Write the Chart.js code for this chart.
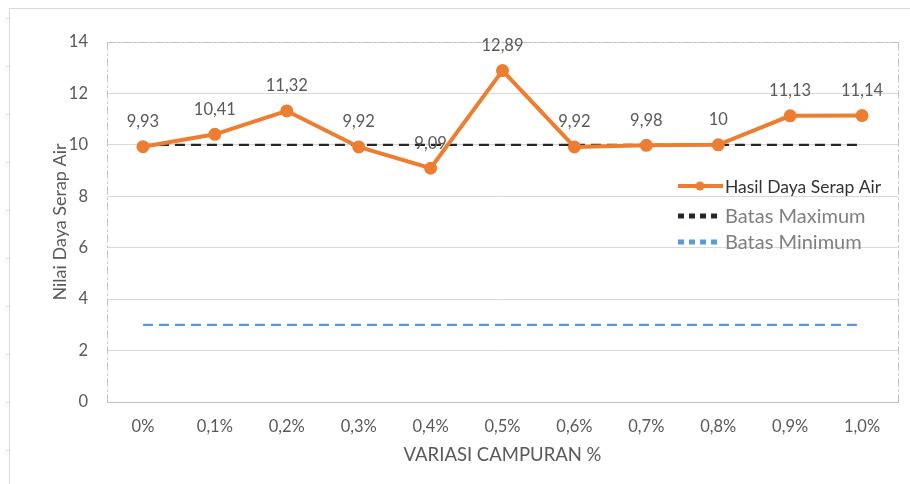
<!DOCTYPE html>
<html>
<head>
<meta charset="utf-8">
<script src="https://cdn.jsdelivr.net/npm/chart.js@4/dist/chart.umd.min.js"></script>
<style>
html,body{margin:0;padding:0;background:#fff;}
#wrap{width:910px;height:484px;position:relative;}
</style>
</head>
<body>
<div id="wrap"><canvas id="c" width="910" height="484"></canvas></div>
<script>
const categories = ["0%","0,1%","0,2%","0,3%","0,4%","0,5%","0,6%","0,7%","0,8%","0,9%","1,0%"];
const hasilDayaSerapAir = [9.93,10.41,11.32,9.92,9.09,12.89,9.92,9.98,10,11.13,11.14];
const batasMaximum = [10,10,10,10,10,10,10,10,10,10,10];
const batasMinimum = [3,3,3,3,3,3,3,3,3,3,3];
const yTicks = [0,2,4,6,8,10,12,14];

const FONT = "'Lato','Open Sans',sans-serif";
const GRAY = '#595959';

const framePlugin = {
  id: 'frame',
  beforeDraw(chart) {
    const ctx = chart.ctx;
    ctx.save();
    ctx.strokeStyle = '#d9d9d9';
    ctx.lineWidth = 1;
    ctx.beginPath();
    ctx.moveTo(9.5, 8.5); ctx.lineTo(910, 8.5);
    ctx.moveTo(9.5, 8.5); ctx.lineTo(9.5, 484);
    for (let y = 18; y < 484; y += 48) { ctx.moveTo(6, y + 0.5); ctx.lineTo(9.5, y + 0.5); }
    ctx.stroke();
    ctx.restore();
  },
  afterDatasetsDraw(chart) {
    const {ctx, chartArea: a} = chart;
    ctx.save();
    ctx.strokeStyle = '#bfbfbf';
    ctx.lineWidth = 1;
    ctx.setLineDash([8, 3, 2, 3]);
    ctx.beginPath();
    ctx.moveTo(a.left + 0.5, a.top + 0.5); ctx.lineTo(a.right + 0.5, a.top + 0.5);
    ctx.moveTo(a.left + 0.5, a.top + 0.5); ctx.lineTo(a.left + 0.5, a.bottom);
    ctx.moveTo(a.right + 0.5, a.top + 0.5); ctx.lineTo(a.right + 0.5, a.bottom);
    ctx.stroke();
    ctx.restore();
  }
};

const labelPlugin = {
  id: 'pointLabels',
  afterDatasetsDraw(chart) {
    const ctx = chart.ctx;
    const meta = chart.getDatasetMeta(0);
    ctx.save();
    ctx.font = "16.5px " + FONT;
    ctx.fillStyle = GRAY;
    ctx.textAlign = 'center';
    ctx.textBaseline = 'middle';
    meta.data.forEach((pt, i) => {
      const v = hasilDayaSerapAir[i];
      ctx.fillText(String(v).replace('.', ','), pt.x, pt.y - 25);
    });
    ctx.restore();
  }
};

const legendPlugin = {
  id: 'insideLegend',
  afterDraw(chart) {
    const ctx = chart.ctx;
    const ds = chart.data.datasets;
    ctx.save();
    ctx.textBaseline = 'middle';
    ctx.textAlign = 'left';
    let y = 186;
    ctx.strokeStyle = ds[0].borderColor; ctx.lineWidth = 4;
    ctx.beginPath(); ctx.moveTo(678, y); ctx.lineTo(723, y); ctx.stroke();
    ctx.fillStyle = ds[0].borderColor;
    ctx.beginPath(); ctx.arc(700, y, 4.5, 0, Math.PI * 2); ctx.fill();
    ctx.fillStyle = '#333333'; ctx.font = "17.5px " + FONT;
    ctx.fillText(ds[0].label, 725, y + 1);
    y = 216;
    ctx.fillStyle = ds[1].borderColor;
    for (let k = 0; k < 4; k++) ctx.fillRect(678 + k * 11, y - 2.5, 6, 5);
    ctx.fillStyle = '#7f7f7f'; ctx.font = "20px " + FONT;
    ctx.fillText(ds[1].label, 725, y + 1);
    y = 242;
    ctx.fillStyle = ds[2].borderColor;
    for (let k = 0; k < 4; k++) ctx.fillRect(678 + k * 11, y - 2.5, 6, 5);
    ctx.fillStyle = '#7f7f7f'; ctx.font = "20px " + FONT;
    ctx.fillText(ds[2].label, 725, y + 1);
    ctx.restore();
  }
};

new Chart(document.getElementById('c'), {
  type: 'line',
  data: {
    labels: categories,
    datasets: [
      {
        label: 'Hasil Daya Serap Air',
        data: hasilDayaSerapAir,
        borderColor: '#ED7D31',
        backgroundColor: '#ED7D31',
        borderWidth: 4,
        pointRadius: 4.5,
        pointHoverRadius: 4.5,
        pointBackgroundColor: '#ED7D31',
        pointBorderColor: '#ED7D31',
        tension: 0,
        order: 0
      },
      {
        label: 'Batas Maximum',
        data: batasMaximum,
        borderColor: '#262626',
        borderWidth: 2.25,
        borderDash: [10, 6],
        pointRadius: 0,
        order: 1
      },
      {
        label: 'Batas Minimum',
        data: batasMinimum,
        borderColor: '#5B9BD5',
        borderWidth: 2.25,
        borderDash: [10, 6],
        pointRadius: 0,
        order: 2
      }
    ]
  },
  options: {
    responsive: false,
    animation: false,
    layout: { padding: { top: 42, right: 12, left: 0, bottom: 0 } },
    plugins: { legend: { display: false }, tooltip: { enabled: false } },
    scales: {
      x: {
        offset: true,
        grid: { display: false, drawTicks: false },
        border: { display: true, color: '#bfbfbf', width: 1 },
        ticks: { color: GRAY, font: { family: FONT, size: 16.5 }, padding: 15, maxRotation: 0 },
        title: { display: true, text: 'VARIASI CAMPURAN %', color: GRAY, font: { family: FONT, size: 18.5 }, padding: { top: 0, bottom: 18 } },
        afterFit(s) { s.height = 82; }
      },
      y: {
        min: 0, max: 14,
        afterBuildTicks(s) { s.ticks = yTicks.map(v => ({ value: v })); },
        grid: { color: '#d9d9d9', drawTicks: false, lineWidth: 1 },
        border: { display: false },
        ticks: { color: GRAY, font: { family: FONT, size: 16.5 }, padding: 19 },
        title: { display: true, text: 'Nilai Daya Serap Air', color: GRAY, font: { family: FONT, size: 18 }, padding: { top: 49, bottom: 0 } },
        afterFit(s) { s.width = 107; }
      }
    }
  },
  plugins: [framePlugin, labelPlugin, legendPlugin]
});
</script>
</body>
</html>
